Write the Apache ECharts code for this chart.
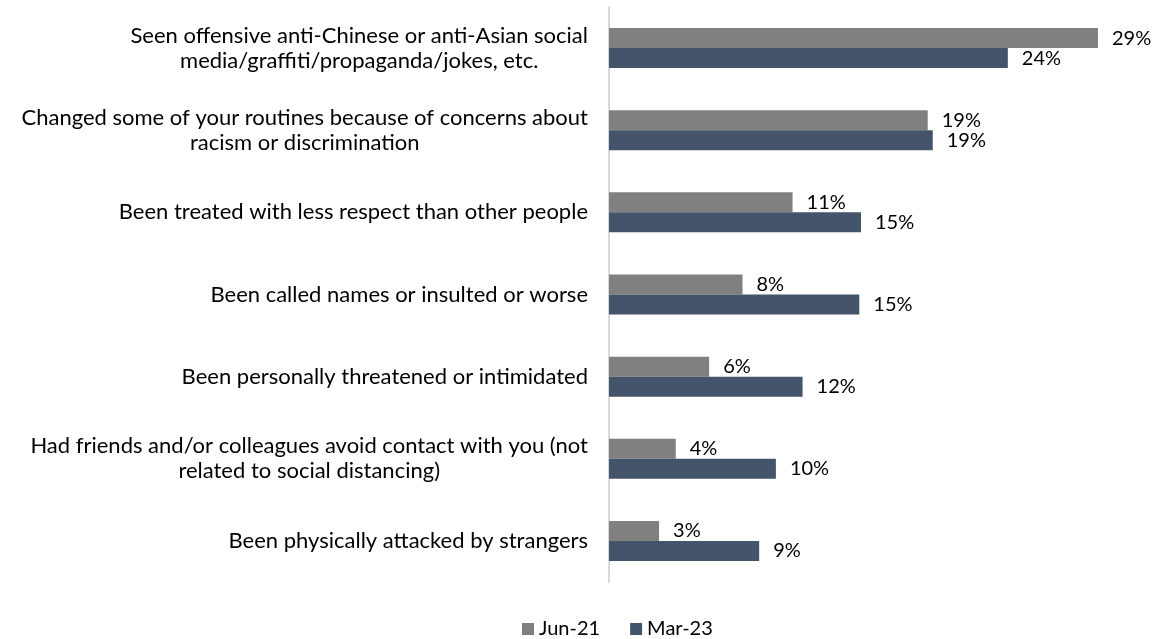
<!DOCTYPE html>
<html>
<head>
<meta charset="utf-8">
<script src="https://cdn.jsdelivr.net/npm/echarts@6/dist/echarts.min.js"></script>
<style>html,body{margin:0;padding:0;background:#fff;}#c{width:1157px;height:639px;}</style>
</head>
<body>
<div id="c"></div>
<script>
var categories = [
  "Seen offensive anti-Chinese or anti-Asian social\nmedia/graffiti/propaganda/jokes, etc.",
  "Changed some of your routines because of concerns about\nracism or discrimination",
  "Been treated with less respect than other people",
  "Been called names or insulted or worse",
  "Been personally threatened or intimidated",
  "Had friends and/or colleagues avoid contact with you (not\nrelated to social distancing)",
  "Been physically attacked by strangers"
];
var seriesNames = ["Jun-21", "Mar-23"];
var jun21 = [29.3, 19.1, 11.0, 8.0, 6.0, 4.0, 3.0];
var mar23 = [23.9, 19.4, 15.1, 15.0, 11.6, 10.0, 9.0];

var FONT = "Lato, 'Open Sans', sans-serif";
var chart = echarts.init(document.getElementById('c'), null, {renderer: 'canvas'});
var labelCfg = {
  show: true, position: 'right', distance: 14,
  color: '#000', fontSize: 20, fontFamily: FONT,
  formatter: function (p) { return Math.round(p.value) + '%'; }
};
chart.setOption({
  animation: false,
  backgroundColor: '#fff',
  grid: {left: 609, right: 14, top: 7, bottom: 57},
  legend: {
    bottom: 0, left: 517, padding: [0, 5, 0, 5],
    itemWidth: 12, itemHeight: 12, itemGap: 30,
    icon: 'rect',
    textStyle: {color: '#000', fontSize: 20, fontFamily: FONT},
    data: seriesNames
  },
  xAxis: {
    type: 'value', min: 0, max: 32,
    show: false
  },
  yAxis: {
    type: 'category', inverse: true, data: categories,
    axisLine: {show: true, lineStyle: {color: '#d9d9d9', width: 2}},
    axisTick: {show: false},
    axisLabel: {
      color: '#000', fontSize: 22, fontFamily: FONT, lineHeight: 25,
      align: 'right', margin: 21,
      formatter: function (v) {
        return v.split('\n').map(function (l) { return '{c|' + l + '}'; }).join('\n');
      },
      rich: {
        c: {align: 'center', color: '#000', fontSize: 22, fontFamily: FONT, lineHeight: 25}
      }
    }
  },
  series: [
    {name: seriesNames[0], type: 'bar', data: jun21, barWidth: 20, barGap: '0%',
     itemStyle: {color: '#808080'}, label: labelCfg},
    {name: seriesNames[1], type: 'bar', data: mar23, barWidth: 20, barGap: '0%',
     itemStyle: {color: '#44546A'}, label: labelCfg}
  ]
});
</script>
</body>
</html>
